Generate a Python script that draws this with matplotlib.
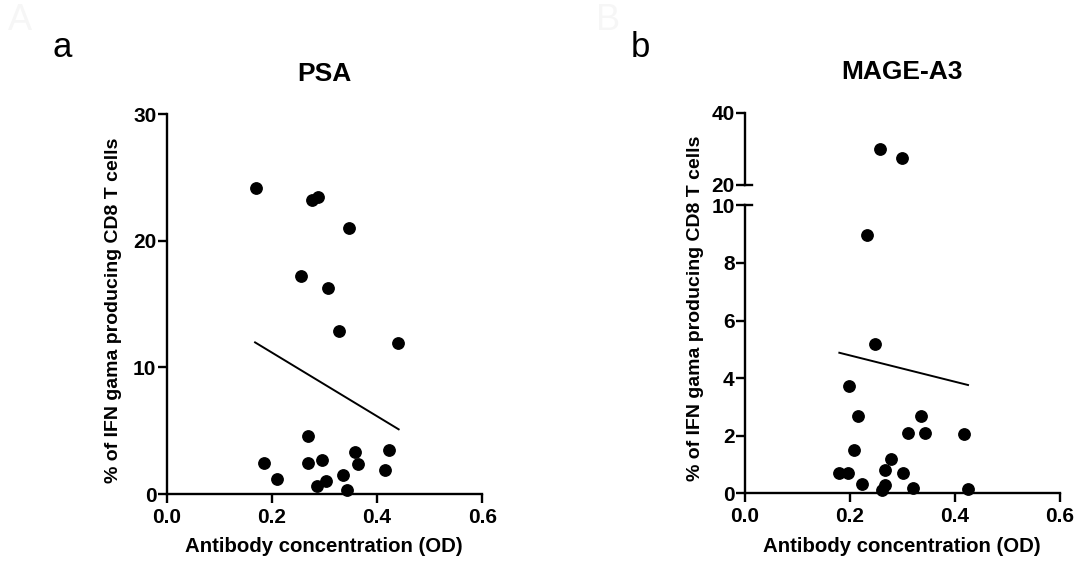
import matplotlib
matplotlib.use("Agg")
import matplotlib.pyplot as plt
from matplotlib.lines import Line2D

plt.rcParams['font.family'] = ['Liberation Sans', 'DejaVu Sans']

# ---- data: PSA ----
psa_x = [0.169, 0.277, 0.288, 0.346, 0.256, 0.307, 0.327, 0.440, 0.268, 0.185,
         0.209, 0.268, 0.296, 0.286, 0.303, 0.335, 0.343, 0.358, 0.364, 0.423, 0.415]
psa_y = [24.2, 23.2, 23.5, 21.0, 17.25, 16.25, 12.9, 11.96, 4.6, 2.48,
         1.19, 2.48, 2.69, 0.61, 1.05, 1.47, 0.34, 3.34, 2.34, 3.45, 1.87]
psa_fit_x = [0.168, 0.441]
psa_fit_y = [11.98, 5.11]

# ---- data: MAGE-A3 ----
mage_x = [0.2565, 0.2997, 0.2317, 0.247, 0.1975, 0.215, 0.335, 0.311, 0.343, 0.4165,
          0.207, 0.279, 0.266, 0.1797, 0.1968, 0.3003, 0.2229, 0.266, 0.261, 0.3206, 0.4254]
mage_y = [30.0, 27.3, 8.97, 5.2, 3.72, 2.70, 2.70, 2.1, 2.1, 2.07,
          1.5, 1.2, 0.81, 0.69, 0.69, 0.69, 0.31, 0.30, 0.12, 0.20, 0.15]
mage_fit_x = [0.1797, 0.4248]
mage_fit_y = [4.88, 3.76]

x_ticks = [0.0, 0.2, 0.4, 0.6]
x_ticklabels = ["0.0", "0.2", "0.4", "0.6"]
psa_yticks = [0, 10, 20, 30]
mage_low_yticks = [0, 2, 4, 6, 8, 10]
mage_high_yticks = [20, 40]

xlabel = "Antibody concentration (OD)"
ylabel = "% of IFN gama producing CD8 T cells"

W, H = 1081, 565
fig = plt.figure(figsize=(W / 100, H / 100), dpi=100)

def px(x0, y0, x1, y1):
    # pixel box (left, top, right, bottom) -> fig fraction rect
    return [x0 / W, 1 - y1 / H, (x1 - x0) / W, (y1 - y0) / H]

SPW = 1.7
TICK_FS = 15
XLAB_FS = 14.7
YLAB_FS = 14
MS = 8.2

def style(ax):
    for s in ['top', 'right']:
        ax.spines[s].set_visible(False)
    for s in ['left', 'bottom']:
        ax.spines[s].set_linewidth(SPW)
    ax.tick_params(axis='both', width=SPW, length=6.5, labelsize=TICK_FS)
    ax.tick_params(axis='y', pad=1.0)
    ax.tick_params(axis='x', pad=3.5)
    for lab in ax.get_xticklabels() + ax.get_yticklabels():
        lab.set_fontweight('bold')

# ---- left panel ----
axL = fig.add_axes(px(166.7, 114.3, 482.3, 494))
axL.set_xlim(0, 0.6)
axL.set_ylim(0, 30)
axL.set_xticks(x_ticks)
axL.set_xticklabels(x_ticklabels)
axL.set_yticks(psa_yticks)
axL.plot(psa_x, psa_y, 'o', color='black', ms=MS, clip_on=False, zorder=3)
axL.plot(psa_fit_x, psa_fit_y, '-', color='black', lw=1.4)
style(axL)

# ---- right panel (broken y axis) ----
axR = fig.add_axes(px(745, 205.3, 1060, 493.3))
axR.set_xlim(0, 0.6)
axR.set_ylim(0, 10)
axR.set_xticks(x_ticks)
axR.set_xticklabels(x_ticklabels)
axR.set_yticks(mage_low_yticks)
low = [(x, y) for x, y in zip(mage_x, mage_y) if y <= 10]
axR.plot([p[0] for p in low], [p[1] for p in low], 'o', color='black', ms=MS,
         clip_on=False, zorder=3)
axR.plot(mage_fit_x, mage_fit_y, '-', color='black', lw=1.4)
style(axR)

axT = fig.add_axes(px(745, 112.7, 1060, 184.7))
axT.set_xlim(0, 0.6)
axT.set_ylim(20, 40)
axT.set_yticks(mage_high_yticks)
axT.set_xticks([])
high = [(x, y) for x, y in zip(mage_x, mage_y) if y > 10]
axT.plot([p[0] for p in high], [p[1] for p in high], 'o', color='black', ms=MS,
         clip_on=False, zorder=3)
style(axT)
axT.spines['bottom'].set_visible(False)
axT.patch.set_alpha(0)

# break tick extensions (T shape)
for ax, yv in [(axT, 20), (axR, 10)]:
    ax.add_line(Line2D([0, 0.022], [yv, yv], transform=ax.get_yaxis_transform(),
                       color='black', lw=SPW, clip_on=False))

# ---- titles and labels ----
fig.text(324 / W, 1 - 74 / H, "PSA", ha='center', va='center',
         fontsize=19, fontweight='bold')
fig.text(902 / W, 1 - 72 / H, "MAGE-A3", ha='center', va='center',
         fontsize=19, fontweight='bold')

fig.text(52 / W, 1 - 57 / H, "a", ha='left', va='baseline', fontsize=25)
fig.text(631 / W, 1 - 57 / H, "b", ha='left', va='baseline', fontsize=25)
fig.text(8 / W, 1 - 30 / H, "A", ha='left', va='baseline', fontsize=26, color='#f6f6f6')
fig.text(596 / W, 1 - 30 / H, "B", ha='left', va='baseline', fontsize=26, color='#f6f6f6')

fig.text(324 / W, 1 - 547 / H, xlabel, ha='center', va='center',
         fontsize=XLAB_FS, fontweight='bold')
fig.text(902 / W, 1 - 547 / H, xlabel, ha='center', va='center',
         fontsize=XLAB_FS, fontweight='bold')
fig.text(114 / W, 1 - 310 / H, ylabel, ha='center', va='center', rotation=90,
         fontsize=YLAB_FS, fontweight='bold')
fig.text(695 / W, 1 - 308 / H, ylabel, ha='center', va='center', rotation=90,
         fontsize=YLAB_FS, fontweight='bold')

fig.savefig("out.png", dpi=100)
